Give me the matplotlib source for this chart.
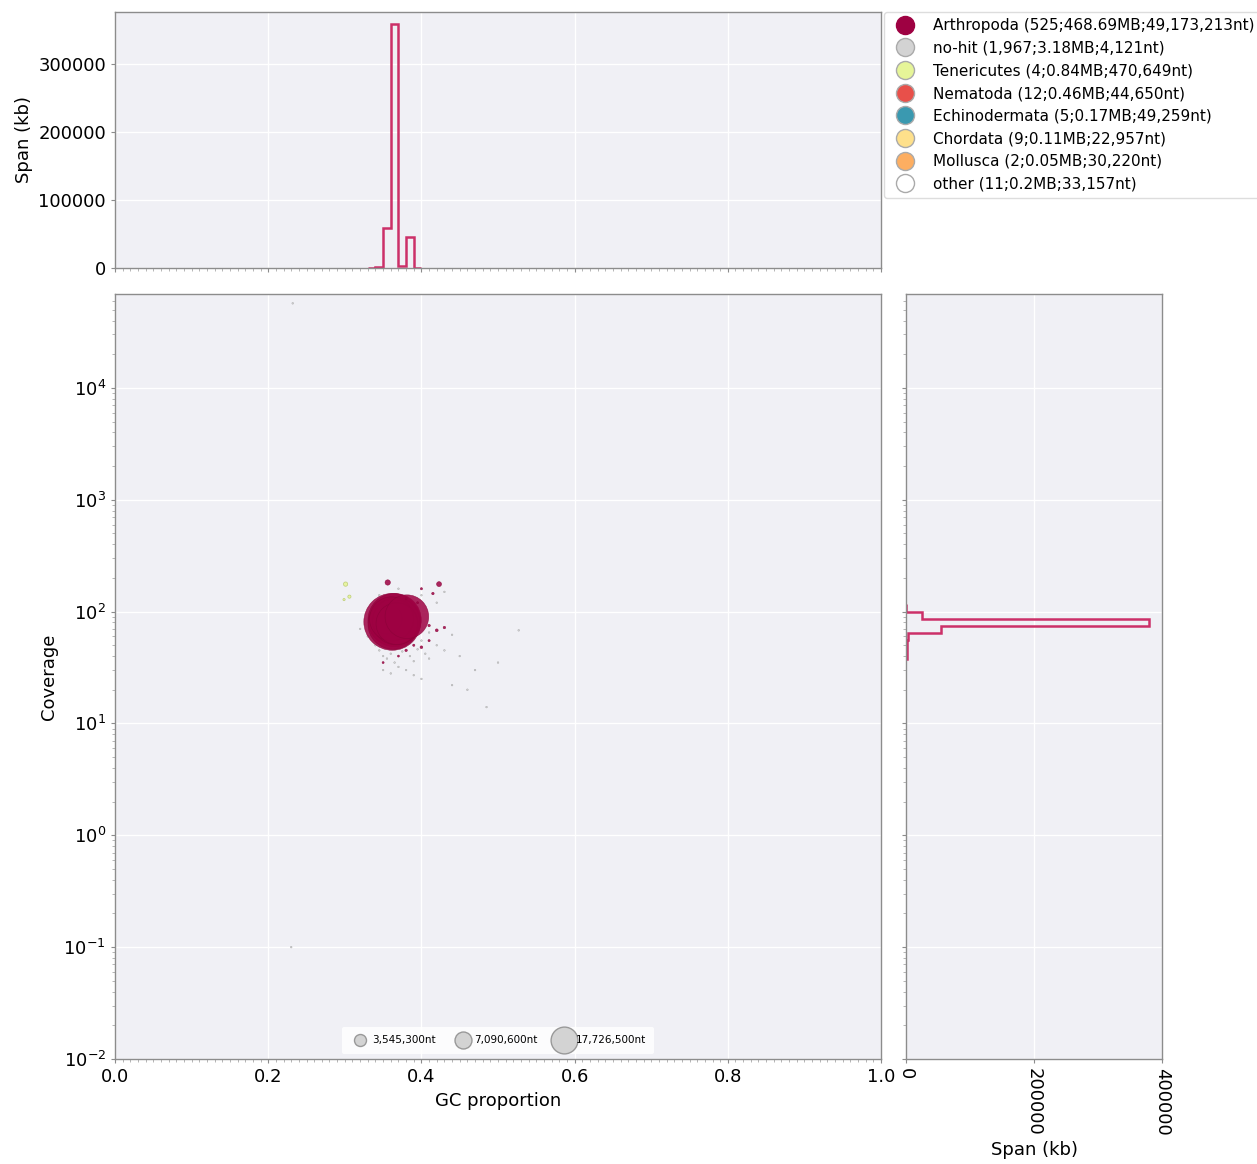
import numpy as np
import matplotlib
matplotlib.use("Agg")
import matplotlib.pyplot as plt
from matplotlib.lines import Line2D
from matplotlib.ticker import MultipleLocator

# taxa shown in the legend
taxa = ["Arthropoda", "no-hit", "Tenericutes", "Nematoda", "Echinodermata",
        "Chordata", "Mollusca", "other"]
taxa_labels = ["Arthropoda (525;468.69MB;49,173,213nt)",
               "no-hit (1,967;3.18MB;4,121nt)",
               "Tenericutes (4;0.84MB;470,649nt)",
               "Nematoda (12;0.46MB;44,650nt)",
               "Echinodermata (5;0.17MB;49,259nt)",
               "Chordata (9;0.11MB;22,957nt)",
               "Mollusca (2;0.05MB;30,220nt)",
               "other (11;0.2MB;33,157nt)"]
taxa_colors = ["#9E0142", "#D3D3D3", "#E6F598", "#E8504A", "#3A99B0",
               "#FEE08B", "#FDAE61", "#FFFFFF"]

# Arthropoda contigs (GC, coverage, length nt)
arth_gc = [0.357, 0.355, 0.362, 0.365, 0.363, 0.367, 0.361, 0.368, 0.381,
           0.356, 0.423, 0.41, 0.42, 0.43, 0.39, 0.40, 0.38, 0.41, 0.415,
           0.40, 0.38, 0.395, 0.37, 0.35]
arth_cov = [76, 86, 81, 84, 77, 82, 86, 78, 90,
            182, 176, 75, 68, 72, 50, 48, 45, 55, 145,
            160, 130, 120, 40, 35]
arth_len = [35e6, 23e6, 80e6, 70e6, 62e6, 55e6, 48e6, 43e6, 47e6,
            700e3, 600e3, 150e3, 200e3, 150e3, 120e3, 180e3, 150e3, 120e3, 150e3,
            120e3, 100e3, 100e3, 100e3, 100e3]

# no-hit contigs
nohit_gc = [0.34, 0.345, 0.35, 0.355, 0.36, 0.365, 0.37, 0.375, 0.38, 0.385,
            0.39, 0.395, 0.40, 0.405, 0.41, 0.35, 0.36, 0.37, 0.38, 0.39,
            0.33, 0.42, 0.43, 0.44, 0.45, 0.36, 0.375, 0.39, 0.41, 0.32,
            0.40, 0.47, 0.50, 0.527, 0.232, 0.23, 0.46, 0.42, 0.43, 0.40,
            0.37, 0.345, 0.485, 0.44]
nohit_cov = [50, 45, 40, 38, 42, 35, 48, 44, 52, 40,
             36, 46, 55, 42, 38, 30, 28, 32, 30, 27,
             60, 50, 45, 62, 40, 55, 60, 58, 65, 70,
             25, 30, 35, 68, 57000, 0.1, 20, 120, 150, 140,
             160, 140, 14, 22]
nohit_len = [60e3] * 44

# Tenericutes contigs
ten_gc = [0.301, 0.306, 0.299]
ten_cov = [176, 136, 128]
ten_len = [450e3, 250e3, 120e3]

# top histogram: span per GC bin (kb)
gc_edges = [0.33, 0.34, 0.35, 0.36, 0.37, 0.38, 0.39, 0.40]
gc_span = [0, 1500, 58000, 358000, 3000, 46000, 0]

# right histogram: span per coverage bin (kb)
cov_edges = [37.5, 43, 49, 56, 64.2, 73.6, 85.7, 100, 116]
cov_span = [800, 1200, 1800, 2500, 54000, 380000, 25500, 0]

# size legend
size_legend_len = [3545300, 7090600, 17726500]
size_legend_txt = ["3,545,300nt", "7,090,600nt", "17,726,500nt"]

k = 2.1e-5   # marker area per nt
hist_color = "#CC3068"
bg = "#F0F0F5"

fig = plt.figure(figsize=(12.57, 11.64), dpi=100)
ax_main = fig.add_axes([0.0915, 0.0902, 0.6094, 0.6572])
ax_top = fig.add_axes([0.0915, 0.7698, 0.6094, 0.2199])
ax_right = fig.add_axes([0.7208, 0.0902, 0.2037, 0.6572])


def style(ax):
    ax.set_facecolor(bg)
    for s in ax.spines.values():
        s.set_color("#8c8c8c")
        s.set_linewidth(1)
    ax.grid(True, which="major", color="white", lw=1.0)
    ax.set_axisbelow(True)
    ax.tick_params(which="major", labelsize=13, length=3, color="#8c8c8c")
    ax.tick_params(which="minor", length=2, color="#aaaaaa")


for a in (ax_main, ax_top, ax_right):
    style(a)

# scatter
ax_main.scatter(nohit_gc, nohit_cov, s=np.maximum(np.array(nohit_len) * k, 1.5),
                color=taxa_colors[1], alpha=0.9, lw=0.3, edgecolor="#999999", zorder=3)
ax_main.scatter(ten_gc, ten_cov, s=np.array(ten_len) * k,
                color=taxa_colors[2], alpha=0.9, lw=0.5, edgecolor="#b8c870", zorder=3)
ax_main.scatter(arth_gc, arth_cov, s=np.maximum(np.array(arth_len) * k, 1.5),
                color=taxa_colors[0], alpha=0.85, lw=0.4, edgecolor="#8a0238", zorder=4)
ax_main.set_yscale("log")
ax_main.set_xlim(0, 1)
ax_main.set_ylim(0.01, 69000)
ax_main.xaxis.set_minor_locator(MultipleLocator(0.01))
ax_main.set_xlabel("GC proportion", fontsize=13)
ax_main.set_ylabel("Coverage", fontsize=13)

size_handles = [Line2D([], [], ls="", marker="o", markersize=np.sqrt(L * k),
                       markerfacecolor="#D3D3D3", markeredgecolor="#999999")
                for L in size_legend_len]
ax_main.legend(size_handles, size_legend_txt, loc="lower center", ncol=3,
               fontsize=7.5, frameon=True, facecolor="white", edgecolor="none",
               framealpha=0.85, handletextpad=0.1, columnspacing=1.6,
               borderaxespad=0.5, borderpad=0.8)

# top histogram
ax_top.stairs(gc_span, gc_edges, color=hist_color, lw=1.8, baseline=0)
ax_top.set_xlim(0, 1)
ax_top.set_ylim(0, 376000)
ax_top.xaxis.set_minor_locator(MultipleLocator(0.01))
ax_top.set_xticks([0, 0.2, 0.4, 0.6, 0.8, 1.0])
ax_top.tick_params(labelbottom=False)
ax_top.set_yticks([0, 100000, 200000, 300000])
ax_top.set_ylabel("Span (kb)", fontsize=13)

# right histogram
ax_right.stairs(cov_span, cov_edges, orientation="horizontal", color=hist_color,
                lw=1.8, baseline=0)
ax_right.set_yscale("log")
ax_right.set_ylim(0.01, 69000)
ax_right.set_xlim(0, 400000)
ax_right.set_xticks([0, 200000, 400000])
ax_right.tick_params(labelleft=False)
for t in ax_right.get_xticklabels():
    t.set_rotation(-90)
ax_right.set_xlabel("Span (kb)", fontsize=13)

# taxa legend
handles = [Line2D([], [], ls="", marker="o", markersize=13, markerfacecolor=c,
                  markeredgecolor="#aaaaaa", markeredgewidth=1)
           for c in taxa_colors]
handles[0].set_markeredgecolor("#9E0142")
fig.legend(handles, taxa_labels, loc="upper left",
           bbox_to_anchor=(884 / 1257, 1 - 12 / 1164), fontsize=11,
           frameon=True, facecolor="white", edgecolor="#dddddd", framealpha=1,
           borderaxespad=0, handletextpad=0.8, labelspacing=0.5)

fig.savefig("out.png", dpi=100)
